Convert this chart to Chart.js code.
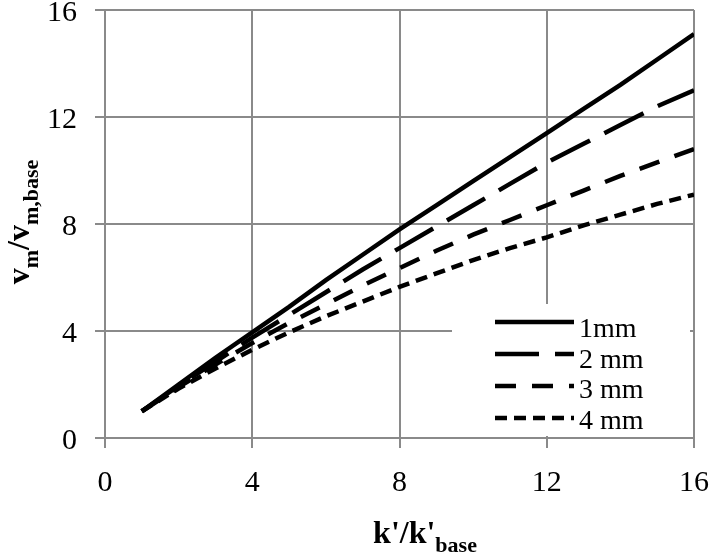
<!DOCTYPE html>
<html>
<head>
<meta charset="utf-8">
<script src="https://cdn.jsdelivr.net/npm/chart.js@4"></script>
<style>
  html, body { margin: 0; padding: 0; background: #fff; }
  #wrap { width: 712px; height: 556px; }
</style>
</head>
<body>
<div id="wrap"><canvas id="chart" width="712" height="556"></canvas></div>
<script>
// k'/k'base values
const kRatio = [1, 2, 3, 4, 5, 6, 7, 8, 9, 10, 11, 12, 13, 14, 15, 16];

// vm/vm,base for each particle size
const v1mm = [1, 2.0, 3.0, 3.95, 4.9, 5.9, 6.85, 7.8, 8.7, 9.6, 10.5, 11.4, 12.3, 13.2, 14.15, 15.1];
const v2mm = [1, 1.95, 2.85, 3.75, 4.6, 5.45, 6.3, 7.1, 7.9, 8.7, 9.5, 10.3, 11.0, 11.7, 12.4, 13.0];
const v3mm = [1, 1.9, 2.75, 3.55, 4.3, 5.0, 5.7, 6.35, 7.0, 7.6, 8.15, 8.7, 9.25, 9.8, 10.3, 10.8];
const v4mm = [1, 1.85, 2.6, 3.3, 3.95, 4.55, 5.1, 5.65, 6.15, 6.65, 7.1, 7.5, 7.95, 8.35, 8.75, 9.1];

const seriesLabels = ['1mm', '2 mm', '3 mm', '4 mm'];
const seriesDash = [[], [44, 16], [21, 16], [12, 7]];

const xTicks = [0, 4, 8, 12, 16];
const yTicks = [0, 4, 8, 12, 16];

const GRID = '#8a8a8a';
const FONT = '"Liberation Serif", "Times New Roman", serif';

const toPoints = (ys) => kRatio.map((x, i) => ({ x, y: ys[i] }));

const datasets = [v1mm, v2mm, v3mm, v4mm].map((ys, i) => ({
    label: seriesLabels[i],
    data: toPoints(ys),
    borderColor: '#000',
    borderWidth: 4.5,
    borderDash: seriesDash[i],
    pointRadius: 0,
    tension: 0,
    fill: false
}));

// draw a string with subscript parts at (x, y) baseline, returns width
const drawSub = (ctx, parts, x, y, measureOnly) => {
    let w = 0;
    parts.forEach(p => {
        ctx.font = p.sub ? `bold 22px ${FONT}` : `bold 32px ${FONT}`;
        if (!measureOnly) ctx.fillText(p.t, x + w, y + (p.sub ? 9 : 0));
        w += ctx.measureText(p.t).width;
    });
    return w;
};

const axisTitles = {
    id: 'axisTitles',
    afterDraw(chart) {
        const ctx = chart.ctx;
        ctx.save();
        ctx.fillStyle = '#000';
        ctx.textBaseline = 'alphabetic';
        ctx.textAlign = 'left';

        const xParts = [{ t: "k'/k'" }, { t: 'base', sub: true }];
        const xw = drawSub(ctx, xParts, 0, 0, true);
        drawSub(ctx, xParts, 425 - xw / 2, 543);

        const yParts = [{ t: 'v' }, { t: 'm', sub: true }, { t: '/v' }, { t: 'm,base', sub: true }];
        const yw = drawSub(ctx, yParts, 0, 0, true);
        ctx.translate(29, 222);
        ctx.rotate(-Math.PI / 2);
        drawSub(ctx, yParts, -yw / 2, 0);
        ctx.restore();
    }
};

const boxLegend = {
    id: 'boxLegend',
    afterDraw(chart) {
        const ctx = chart.ctx;
        ctx.save();
        ctx.fillStyle = '#fff';
        ctx.fillRect(452, 304, 238, 132);
        ctx.strokeStyle = '#000';
        ctx.fillStyle = '#000';
        ctx.lineWidth = 4.5;
        ctx.font = `28px ${FONT}`;
        ctx.textBaseline = 'alphabetic';
        seriesLabels.forEach((lbl, i) => {
            const y = 322 + i * 32;
            ctx.setLineDash(seriesDash[i]);
            ctx.beginPath();
            ctx.moveTo(495, y);
            ctx.lineTo(574, y);
            ctx.stroke();
            ctx.fillText(lbl, 579, 337 + i * 30.5);
        });
        ctx.restore();
    }
};

new Chart(document.getElementById('chart').getContext('2d'), {
    type: 'line',
    data: { datasets },
    options: {
        responsive: false,
        animation: false,
        layout: { padding: { top: 10, right: 18, left: 0, bottom: 0 } },
        plugins: {
            legend: { display: false },
            tooltip: { enabled: false }
        },
        scales: {
            x: {
                type: 'linear',
                min: 0,
                max: 16,
                afterBuildTicks: (s) => { s.ticks = xTicks.map(v => ({ value: v })); },
                afterFit: (s) => { s.height = 118; s.paddingLeft = 0; s.paddingRight = 0; },
                ticks: {
                    color: '#000',
                    font: { family: FONT, size: 30 },
                    padding: 17,
                    maxRotation: 0
                },
                grid: { color: GRID, lineWidth: 2, tickLength: 10 },
                border: { color: GRID, width: 2 }
            },
            y: {
                type: 'linear',
                min: 0,
                max: 16,
                afterBuildTicks: (s) => { s.ticks = yTicks.map(v => ({ value: v })); },
                afterFit: (s) => { s.width = 105; s.paddingTop = 0; s.paddingBottom = 0; },
                ticks: {
                    color: '#000',
                    font: { family: FONT, size: 30 },
                    padding: 18,
                    labelOffset: 3
                },
                grid: { color: GRID, lineWidth: 2, tickLength: 10 },
                border: { color: GRID, width: 2 }
            }
        }
    },
    plugins: [axisTitles, boxLegend]
});
</script>
</body>
</html>
